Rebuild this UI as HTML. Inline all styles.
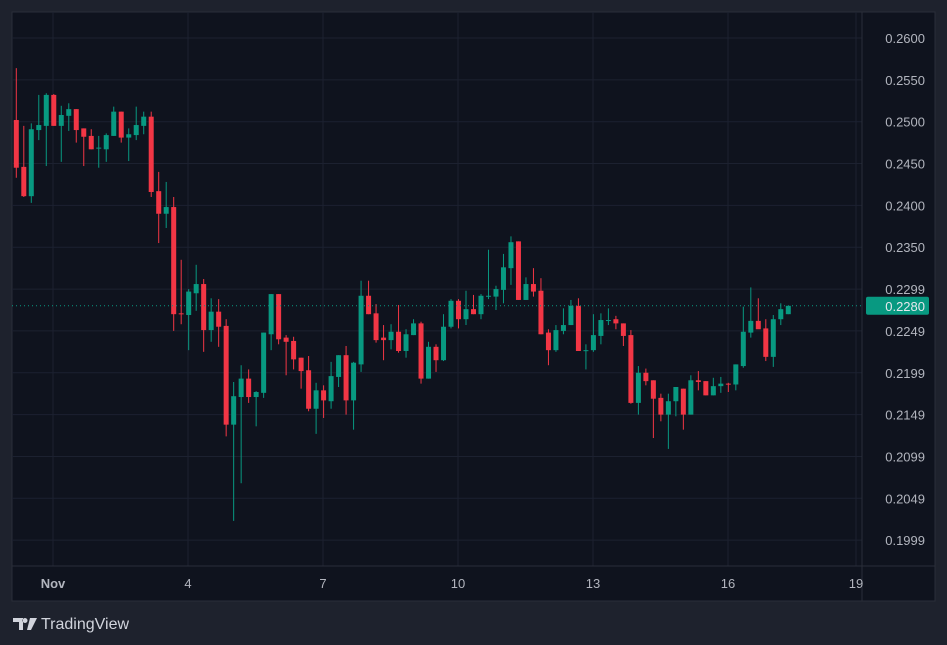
<!DOCTYPE html>
<html><head><meta charset="utf-8">
<style>
html,body{margin:0;padding:0;background:#1e222d;width:947px;height:645px;overflow:hidden;font-family:"Liberation Sans",sans-serif;}
svg{display:block}
</style></head>
<body>
<svg id="chart" width="947" height="645">
<rect x="0" y="0" width="947" height="645" fill="#1e222d"/>
<rect x="12" y="12" width="923" height="589" fill="#0f131e" stroke="#2a2e39"/>
<g id="grid"></g>
<g id="candles"></g>
<line x1="862" y1="12" x2="862" y2="601" stroke="#2a2e39"/>
<line x1="12" y1="566" x2="935" y2="566" stroke="#2a2e39"/>
<g id="yaxis"></g>
<g id="xaxis"></g>
<g>
<path d="M13 618h10v12h-4v-8h-6z M25 618a2.5 2.5 0 1 0 0.01 0z M30 618h7l-6 12h-4z" fill="#d1d4dc"/>
<text x="41" y="629" font-size="16" fill="#d1d4dc">TradingView</text>
</g>
</svg>
<script>
const opens=[2502,2446,2411,2490,2495,2532,2495,2507,2515,2492,2483,2468,2467,2483,2512,2481,2484,2495,2506,2417,2390,2398,2271,2269,2295,2306,2251,2273,2256,2138,2171,2193,2171,2176,2246,2294,2242,2238,2218,2203,2157,2179,2166,2195,2221,2167,2210,2292,2271,2242,2239,2249,2226,2245,2259,2193,2231,2215,2255,2286,2264,2276,2270,2291,2291,2299,2325,2357,2287,2306,2298,2248,2227,2250,2257,2280,2226,2227,2244,2262,2264,2259,2245,2164,2200,2191,2170,2150,2166,2181,2150,2191,2190,2173,2184,2187,2186,2208,2248,2262,2253,2219,2264,2270];
const highs=[2564,2495,2498,2532,2534,2533,2519,2522,2515,2492,2491,2483,2486,2518,2512,2492,2518,2512,2512,2440,2428,2410,2335,2300,2329,2312,2289,2288,2264,2189,2209,2204,2178,2248,2294,2294,2245,2243,2218,2220,2188,2185,2213,2221,2232,2213,2310,2310,2282,2257,2258,2281,2252,2264,2261,2237,2234,2270,2288,2288,2298,2293,2294,2347,2304,2342,2363,2357,2314,2325,2313,2252,2257,2277,2287,2289,2234,2270,2271,2277,2268,2259,2251,2208,2205,2191,2175,2175,2181,2181,2197,2202,2190,2194,2195,2188,2210,2279,2302,2289,2264,2269,2283,2280];
const lows=[2433,2410,2403,2478,2447,2495,2452,2489,2475,2447,2467,2445,2452,2483,2475,2453,2478,2485,2410,2355,2373,2250,2258,2227,2274,2225,2237,2231,2124,2023,2068,2164,2136,2170,2227,2234,2197,2204,2181,2154,2127,2146,2157,2183,2150,2132,2201,2270,2236,2215,2228,2224,2218,2245,2187,2193,2201,2214,2253,2253,2257,2270,2264,2288,2275,2283,2305,2287,2287,2291,2246,2209,2225,2246,2257,2226,2204,2225,2234,2257,2252,2232,2163,2150,2185,2122,2142,2109,2148,2132,2150,2179,2173,2173,2176,2177,2179,2206,2242,2258,2214,2207,2257,2270];
const closes=[2445,2411,2491,2496,2532,2495,2508,2515,2490,2482,2467,2469,2484,2512,2481,2485,2496,2506,2416,2390,2398,2270,2270,2297,2306,2251,2273,2255,2138,2172,2193,2171,2177,2248,2294,2240,2237,2216,2202,2157,2179,2167,2196,2221,2167,2212,2292,2270,2239,2239,2249,2226,2246,2259,2193,2231,2215,2255,2286,2264,2276,2270,2292,2292,2300,2326,2356,2287,2306,2297,2246,2227,2251,2257,2280,2226,2227,2245,2263,2263,2259,2244,2164,2200,2190,2169,2150,2166,2183,2150,2191,2189,2173,2184,2187,2186,2210,2249,2262,2252,2219,2264,2276,2280];
const yTicks=[0.2600,0.2550,0.2500,0.2450,0.2400,0.2350,0.2300,0.2250,0.2200,0.2150,0.2100,0.2050,0.2000];
const yTickLabels=["0.2600","0.2550","0.2500","0.2450","0.2400","0.2350","0.2299","0.2249","0.2199","0.2149","0.2099","0.2049","0.1999"];
const xTicks=[0,3,6,9,12,15,18];
const xTickLabels=["Nov","4","7","10","13","16","19"];
const lastPrice=0.2280;
const lastPriceLabel="0.2280";

const NS="http://www.w3.org/2000/svg";
function yScale(p){return 38+(0.2600-p)*8369;}
function xScale(i){return 16.3+i*7.495;}
function dayX(d){return 53+d*45;}
function mk(tag,attrs,parent){const e=document.createElementNS(NS,tag);for(const k in attrs)e.setAttribute(k,attrs[k]);parent.appendChild(e);return e;}
const grid=document.getElementById('grid'),cg=document.getElementById('candles'),ya=document.getElementById('yaxis'),xa=document.getElementById('xaxis');
yTicks.forEach((t,i)=>{
  const y=yScale(t);
  const l=mk('line',{x1:12,x2:862,y1:y,y2:y,stroke:'#1c2130'},grid);
  
  
  const tx=mk('text',{x:925,y:y+5,'text-anchor':'end','font-size':13,fill:'#b2b5be'},ya);
  tx.textContent=yTickLabels[i];
  
  
});
xTicks.forEach((d,i)=>{
  const x=Math.min(dayX(d),856);
  const l=mk('line',{x1:x,x2:x,y1:12,y2:566,stroke:'#1c2130'},grid);
  
  
  const tx=mk('text',{x:x,y:588,'text-anchor':'middle','font-size':13,fill:'#b2b5be','font-weight':i==0?'bold':'normal'},xa);
  tx.textContent=xTickLabels[i];
  
  
});
opens.forEach((o,i)=>{
  const O=o/10000,H=highs[i]/10000,L=lows[i]/10000,C=closes[i]/10000;
  const up=C>=O,col=up?'#089981':'#f23645';
  const x=xScale(i);
  const g=mk('g',{},cg);
  
  
  mk('line',{x1:x,x2:x,y1:yScale(H),y2:yScale(L),stroke:col,'stroke-width':1},g);
  const top=yScale(Math.max(O,C)),bot=yScale(Math.min(O,C));
  mk('rect',{x:x-2.5,y:top,width:5,height:Math.max(1,bot-top),fill:col},g);
});
const ly=yScale(lastPrice);
const pl=mk('line',{x1:12,x2:862,y1:ly,y2:ly,stroke:'#089981','stroke-dasharray':'1 3'},cg);


const bx=mk('rect',{x:866,y:ly-9,width:63,height:18,rx:2,fill:'#089981'},ya);


const bt=mk('text',{x:925,y:ly+5,'text-anchor':'end','font-size':13,fill:'#e6e8ee'},ya);
bt.textContent=lastPriceLabel;


</script>
</body></html>
